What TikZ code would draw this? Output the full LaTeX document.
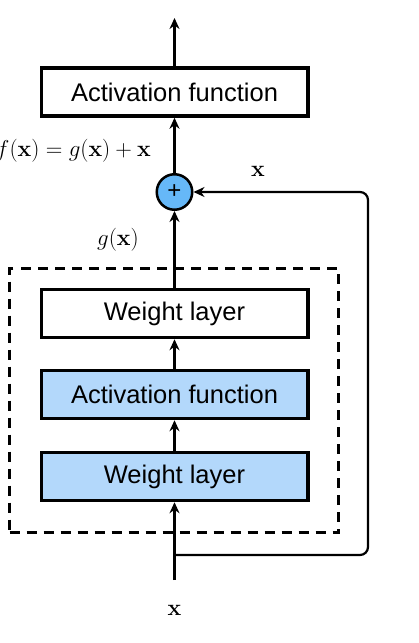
\RequirePackage{fix-cm}
\documentclass[tikz,border=0pt]{standalone}
\usepackage[no-math]{fontspec}
\setmainfont{Liberation Sans}
\usetikzlibrary{arrows.meta}
\definecolor{boxblue}{HTML}{B3D8FB}
\definecolor{circblue}{HTML}{66B8F8}
\begin{document}
\begin{tikzpicture}[x=1pt,y=-1pt,
  layerbox/.style={draw, line width=3.5pt, minimum width=266.5pt, minimum height=48pt, inner sep=0pt, font=\fontsize{25.5}{30}\selectfont},
  bluebox/.style={layerbox, fill=boxblue},
  plusnode/.style={circle, draw, line width=2.5pt, fill=circblue, minimum size=35.5pt, inner sep=0pt, font=\fontsize{24}{28}\selectfont},
  dashbox/.style={draw, line width=3pt, dash pattern=on 10pt off 7pt, minimum width=329pt, minimum height=264pt, inner sep=0pt},
  thickarrow/.style={line width=3.5pt, -{Stealth[length=11pt,width=10pt]}},
  thinarrow/.style={line width=2.5pt, -{Stealth[length=11pt,width=10pt]}},
  skiparrow/.style={line width=2.2pt, rounded corners=8pt, -{Stealth[length=11pt,width=10pt]}},
  mathlabel/.style={font=\fontsize{23}{28}\selectfont, inner sep=0pt}
]
\useasboundingbox (0,0) rectangle (418,643);
% dashed block
\node[dashbox] (block) at (174,400.5) {};
% layers
\node[layerbox] (top) at (174.5,92) {Activation function};
\node[plusnode] (plus) at (174.5,192) {+};
\node[layerbox] (wl2) at (174.5,313.5) {Weight layer};
\node[bluebox] (act1) at (174.5,394.5) {Activation function};
\node[bluebox] (wl1) at (174.5,476.5) {Weight layer};
% coordinates
\coordinate (out) at (174.5,18);
\coordinate (in) at (174.5,580);
\coordinate (branch) at (174.5,555);
\coordinate (cbr) at (368,555);
\coordinate (ctr) at (368,192);
% connectors
\draw[thinarrow] (top.north) -- (out);
\draw[thickarrow] (plus.north) -- (top.south);
\draw[thickarrow] (wl2.north) -- (plus.south);
\draw[thickarrow] (act1.north) -- (wl2.south);
\draw[thickarrow] (wl1.north) -- (act1.south);
\draw[thickarrow] (in) -- (wl1.south);
\draw[skiparrow] (branch) -- (cbr) -- (ctr) -- (plus.east);
% labels
\node[mathlabel, anchor=east] (flabel) at (151,151) {$f(\mathbf{x}) = g(\mathbf{x}) + \mathbf{x}$};
\node[mathlabel] (glabel) at (118,240) {$g(\mathbf{x})$};
\node[mathlabel] (xskip) at (258,171) {$\mathbf{x}$};
\node[mathlabel] (xin) at (174.5,610) {$\mathbf{x}$};
\end{tikzpicture}
\end{document}
